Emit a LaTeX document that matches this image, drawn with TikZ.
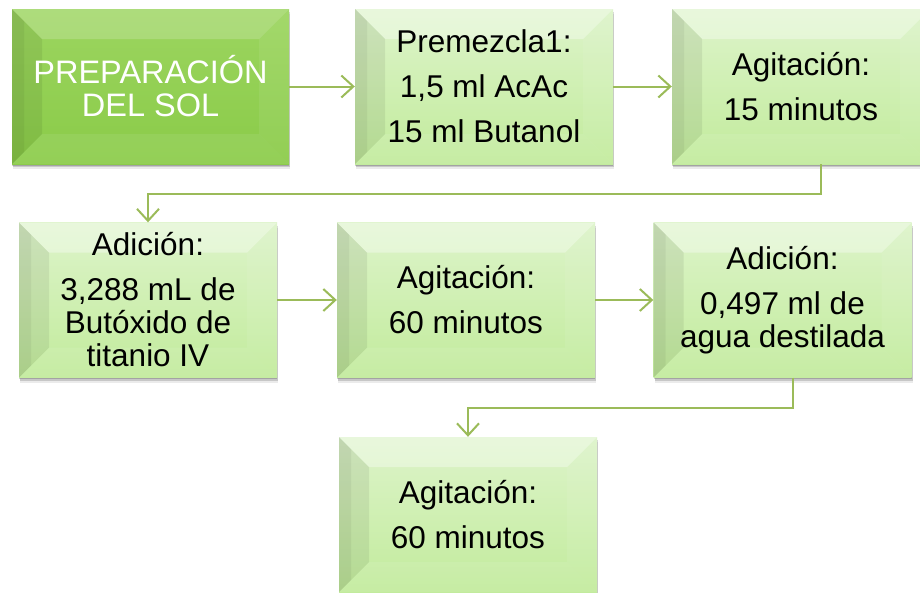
\documentclass[tikz,border=0pt]{standalone}
\usepackage{fontspec}
\setmainfont{Liberation Sans}
\usetikzlibrary{arrows.meta,shadows}
\definecolor{conn}{HTML}{9BBB59}
\definecolor{darkA}{HTML}{9CD560}
\definecolor{darkB}{HTML}{8ACB48}
\definecolor{lightA}{HTML}{DDF4CA}
\definecolor{lightB}{HTML}{C2EB9C}
\tikzset{
  bevel/.style={path picture={
    \fill[white,opacity=#1] (path picture bounding box.north west) -- (path picture bounding box.north east)
      -- ([shift={(-30pt,-30pt)}]path picture bounding box.north east) -- ([shift={(30pt,-30pt)}]path picture bounding box.north west) -- cycle;
    \fill[black,opacity=.07] (path picture bounding box.north west) -- ([shift={(30pt,-30pt)}]path picture bounding box.north west)
      -- ([shift={(30pt,30pt)}]path picture bounding box.south west) -- (path picture bounding box.south west) -- cycle;
    \fill[black,opacity=.05] (path picture bounding box.north west) -- ([shift={(12pt,-12pt)}]path picture bounding box.north west)
      -- ([shift={(12pt,12pt)}]path picture bounding box.south west) -- (path picture bounding box.south west) -- cycle;
    \fill[white,opacity=.07] (path picture bounding box.north east) -- ([shift={(-30pt,-30pt)}]path picture bounding box.north east)
      -- ([shift={(-30pt,30pt)}]path picture bounding box.south east) -- (path picture bounding box.south east) -- cycle;
    \fill[white,opacity=.08] (path picture bounding box.south west) -- ([shift={(30pt,30pt)}]path picture bounding box.south west)
      -- ([shift={(-30pt,30pt)}]path picture bounding box.south east) -- (path picture bounding box.south east) -- cycle;
  }},
  box/.style={rectangle, minimum width=258pt, minimum height=155pt, inner sep=0pt, align=center,
    font=\fontsize{31.5}{33}\selectfont,
    drop shadow={shadow xshift=1pt, shadow yshift=-5pt, opacity=.08, fill=black},
    drop shadow={shadow xshift=1pt, shadow yshift=-3pt, opacity=.15, fill=black},
    drop shadow={shadow xshift=0pt, shadow yshift=-1.5pt, opacity=.18, fill=black}},
  darkbox/.style={box, top color=darkA, bottom color=darkB, text=white, bevel=.18},
  lightbox/.style={box, top color=lightA, bottom color=lightB, text=black, bevel=.35},
  conn/.style={draw=conn, line width=2pt, -{Straight Barb[length=12pt,width=22pt]}},
}
\begin{document}
\begin{tikzpicture}[x=1pt,y=-1pt]
\useasboundingbox (0,0) rectangle (920,592);
\clip (0,0) rectangle (920,592);
\fill[white] (0,0) rectangle (920,592);
\node[darkbox, minimum width=277pt, font=\fontsize{32.5}{33}\selectfont] (n1) at (150.5,86.5) {PREPARACIÓN\\DEL SOL};
\node[lightbox] (n2) at (484,86.5) {Premezcla1:\\[12pt]1,5 ml AcAc\\[12pt]15 ml Butanol};
\node[lightbox] (n3) at (801,86.5) {Agitación:\\[12pt]15 minutos};
\node[lightbox] (n4) at (148,300) {Adición:\\[12pt]3,288 mL de\\Butóxido de\\titanio IV};
\node[lightbox] (n5) at (466,300) {Agitación:\\[12pt]60 minutos};
\node[lightbox] (n6) at (782.5,300) {Adición:\\[12pt]0,497 ml de\\agua destilada};
\node[lightbox] (n7) at (468,514.5) {Agitación:\\[12pt]60 minutos};
\coordinate (r1) at (0,194);
\coordinate (r2) at (0,408);
\draw[conn] (n1.east) -- (n2.west);
\draw[conn] (n2.east) -- (n3.west);
\draw[conn] ([xshift=20pt]n3.south) |- (n4.north |- r1) -- (n4.north);
\draw[conn] (n4.east) -- (n5.west);
\draw[conn] (n5.east) -- (n6.west);
\draw[conn] ([xshift=10.5pt]n6.south) |- (n7.north |- r2) -- (n7.north);
\end{tikzpicture}
\end{document}
